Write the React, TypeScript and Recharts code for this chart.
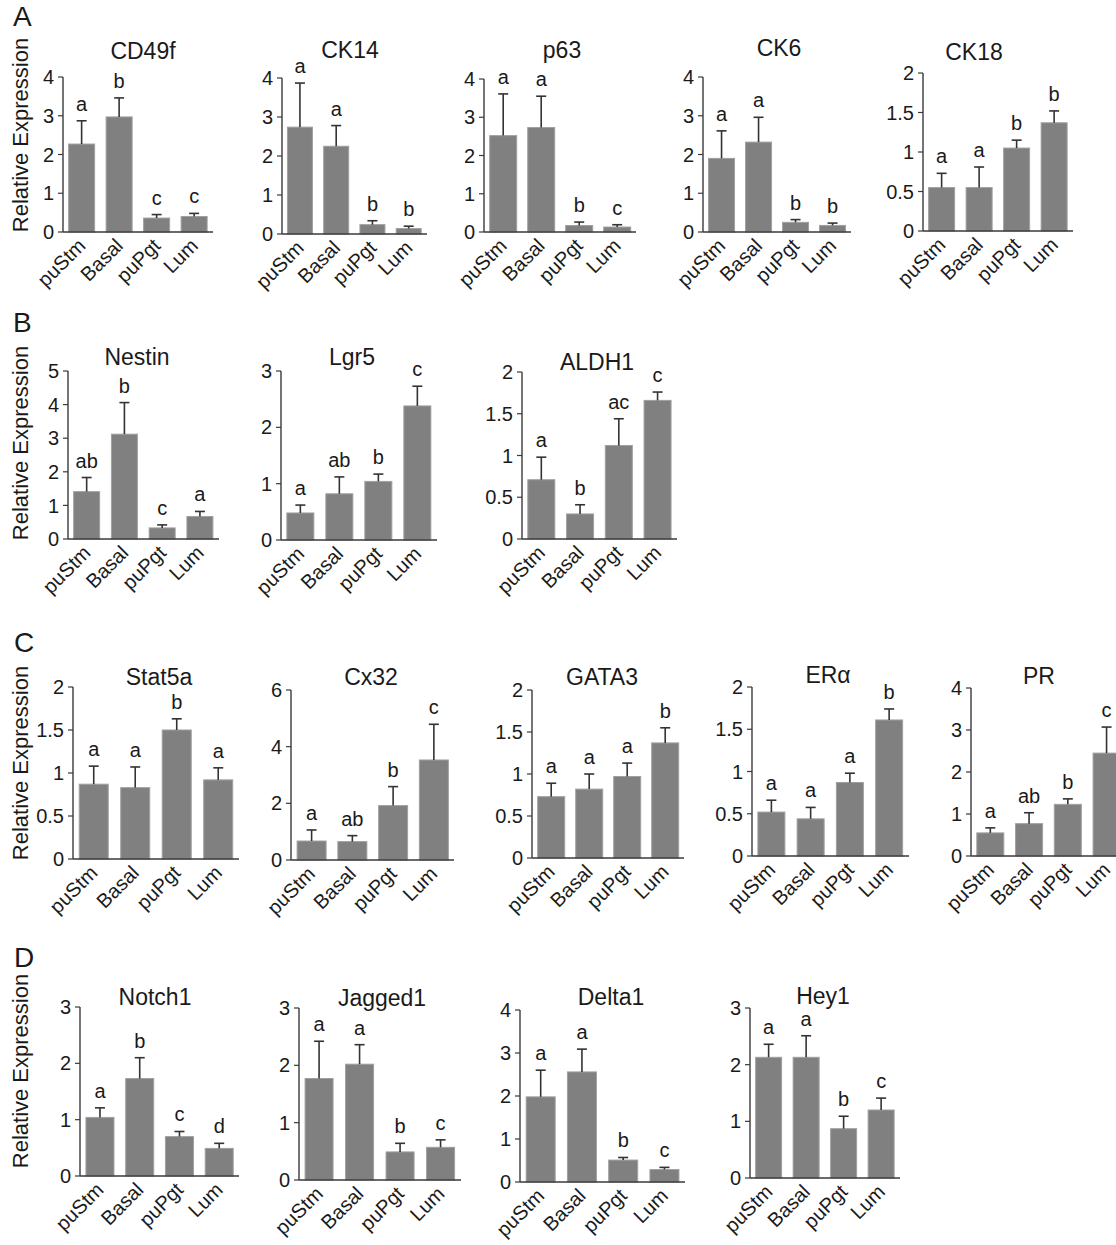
import React from 'react'
import { Bar, BarChart, XAxis, YAxis } from 'recharts'

const groups = ['puStm', 'Basal', 'puPgt', 'Lum']

// A
const cd49fMean = [2.27, 2.97, 0.36, 0.4]
const cd49fErr = [0.6, 0.49, 0.09, 0.08]
const cd49fSig = ['a', 'b', 'c', 'c']
const ck14Mean = [2.74, 2.25, 0.24, 0.14]
const ck14Err = [1.13, 0.53, 0.1, 0.06]
const ck14Sig = ['a', 'a', 'b', 'b']
const p63Mean = [2.52, 2.73, 0.17, 0.13]
const p63Err = [1.09, 0.82, 0.09, 0.06]
const p63Sig = ['a', 'a', 'b', 'c']
const ck6Mean = [1.9, 2.32, 0.25, 0.17]
const ck6Err = [0.71, 0.64, 0.07, 0.06]
const ck6Sig = ['a', 'a', 'b', 'b']
const ck18Mean = [0.55, 0.55, 1.05, 1.37]
const ck18Err = [0.18, 0.26, 0.1, 0.15]
const ck18Sig = ['a', 'a', 'b', 'b']

// B
const nestinMean = [1.41, 3.12, 0.33, 0.67]
const nestinErr = [0.42, 0.94, 0.09, 0.15]
const nestinSig = ['ab', 'b', 'c', 'a']
const lgr5Mean = [0.48, 0.82, 1.04, 2.38]
const lgr5Err = [0.14, 0.3, 0.13, 0.35]
const lgr5Sig = ['a', 'ab', 'b', 'c']
const aldh1Mean = [0.71, 0.3, 1.12, 1.66]
const aldh1Err = [0.27, 0.11, 0.32, 0.1]
const aldh1Sig = ['a', 'b', 'ac', 'c']

// C
const stat5aMean = [0.87, 0.83, 1.5, 0.92]
const stat5aErr = [0.21, 0.24, 0.13, 0.14]
const stat5aSig = ['a', 'a', 'b', 'a']
const cx32Mean = [0.67, 0.65, 1.92, 3.53]
const cx32Err = [0.39, 0.21, 0.67, 1.26]
const cx32Sig = ['a', 'ab', 'b', 'c']
const gata3Mean = [0.73, 0.82, 0.97, 1.37]
const gata3Err = [0.16, 0.18, 0.16, 0.18]
const gata3Sig = ['a', 'a', 'a', 'b']
const eraMean = [0.52, 0.44, 0.87, 1.61]
const eraErr = [0.14, 0.135, 0.11, 0.13]
const eraSig = ['a', 'a', 'a', 'b']
const prMean = [0.55, 0.77, 1.23, 2.45]
const prErr = [0.12, 0.26, 0.13, 0.62]
const prSig = ['a', 'ab', 'b', 'c']

// D
const notch1Mean = [1.04, 1.73, 0.7, 0.49]
const notch1Err = [0.17, 0.37, 0.09, 0.09]
const notch1Sig = ['a', 'b', 'c', 'd']
const jagged1Mean = [1.77, 2.02, 0.49, 0.57]
const jagged1Err = [0.65, 0.34, 0.15, 0.13]
const jagged1Sig = ['a', 'a', 'b', 'c']
const delta1Mean = [1.98, 2.56, 0.51, 0.29]
const delta1Err = [0.62, 0.53, 0.06, 0.05]
const delta1Sig = ['a', 'a', 'b', 'c']
const hey1Mean = [2.13, 2.13, 0.87, 1.2]
const hey1Err = [0.23, 0.38, 0.22, 0.21]
const hey1Sig = ['a', 'a', 'b', 'c']

const ticks4 = [0, 1, 2, 3, 4]
const ticks5 = [0, 1, 2, 3, 4, 5]
const ticks3 = [0, 1, 2, 3]
const ticks2 = [0, 0.5, 1, 1.5, 2]
const ticks6 = [0, 2, 4, 6]

const FONT = '"Liberation Sans", Arial, Helvetica, sans-serif'
const INK = '#1a1a1a'
const AXIS = '#3a3a3a'
const YW = 54
const MT = 50
const MR = 6
const XH = 90

function ErrBar(props: any) {
  const { x, y, width, height, payload } = props
  if (x == null || !payload) return null
  const ppu = payload.mean > 0 ? height / payload.mean : 0
  const top = y - payload.err * ppu
  const cx = x + width / 2
  return (
    <g>
      <rect x={x} y={y} width={width} height={height} fill='#808080' stroke='#a0a0a0' strokeWidth={1} />
      <line x1={cx} x2={cx} y1={y} y2={top} stroke='#333' strokeWidth={1.6} />
      <line x1={cx - 5} x2={cx + 5} y1={top} y2={top} stroke='#333' strokeWidth={1.6} />
      <text x={cx} y={top - 10} textAnchor='middle' fontSize={20} fill={INK} fontFamily={FONT}>
        {payload.sig}
      </text>
    </g>
  )
}

function GroupTick({ x, y, payload }: any) {
  const ax = x + 5
  const ay = y + 13
  return (
    <text x={ax} y={ay} transform={`rotate(-45 ${ax} ${ay})`} textAnchor='end' fontSize={20} fill={INK} fontFamily={FONT}>
      {payload.value}
    </text>
  )
}

type PanelProps = {
  title: string
  mean: number[]
  err: number[]
  sig: string[]
  max: number
  ticks: number[]
  axisX: number
  axisEnd: number
  yTop: number
  yBase: number
  titleX: number
  titleY: number
}

function Panel(p: PanelProps) {
  const data = groups.map((g, i) => ({ group: g, mean: p.mean[i], err: p.err[i], sig: p.sig[i] }))
  const plotW = p.axisEnd - p.axisX
  const plotH = p.yBase - p.yTop
  return (
    <>
      <div
        style={{
          position: 'absolute',
          left: p.titleX,
          top: p.titleY,
          transform: 'translate(-50%, -50%)',
          fontSize: 23,
          lineHeight: 1,
          whiteSpace: 'nowrap',
        }}
      >
        {p.title}
      </div>
      <div style={{ position: 'absolute', left: p.axisX - YW, top: p.yTop - MT }}>
        <BarChart
          width={YW + plotW + MR}
          height={MT + plotH + XH}
          data={data}
          margin={{ top: MT, right: MR, bottom: 0, left: 0 }}
          barCategoryGap='15%'
        >
          <XAxis
            dataKey='group'
            height={XH}
            interval={0}
            tickLine={false}
            tickSize={0}
            tick={<GroupTick />}
            axisLine={{ stroke: AXIS, strokeWidth: 1.4 }}
          />
          <YAxis
            type='number'
            width={YW}
            domain={[0, p.max]}
            ticks={p.ticks}
            interval={0}
            tickSize={5}
            tickMargin={4}
            tickLine={{ stroke: AXIS, strokeWidth: 1.2 }}
            axisLine={{ stroke: AXIS, strokeWidth: 1.4 }}
            tick={{ fontSize: 20, fill: INK, fontFamily: FONT }}
          />
          <Bar dataKey='mean' shape={<ErrBar />} isAnimationActive={false} />
        </BarChart>
      </div>
    </>
  )
}

const YLabel = ({ cy }: { cy: number }) => (
  <div
    style={{
      position: 'absolute',
      left: 21,
      top: cy,
      transform: 'translate(-50%, -50%) rotate(-90deg)',
      fontSize: 22,
      lineHeight: 1,
      whiteSpace: 'nowrap',
    }}
  >
    Relative Expression
  </div>
)

const Letter = ({ ch, x, y }: { ch: string; x: number; y: number }) => (
  <div style={{ position: 'absolute', left: x, top: y, fontSize: 28, lineHeight: 1 }}>{ch}</div>
)

export default function App() {
  return (
    <div
      style={{
        position: 'absolute',
        left: 0,
        top: 0,
        width: 1116,
        height: 1245,
        overflow: 'hidden',
        background: '#fff',
        fontFamily: FONT,
        color: INK,
      }}
    >
      <Letter ch='A' x={13} y={3} />
      <Letter ch='B' x={13} y={309} />
      <Letter ch='C' x={14} y={629} />
      <Letter ch='D' x={14} y={944} />

      <YLabel cy={135} />
      <YLabel cy={443} />
      <YLabel cy={763} />
      <YLabel cy={1071} />

      <Panel title='CD49f' mean={cd49fMean} err={cd49fErr} sig={cd49fSig} max={4} ticks={ticks4}
        axisX={63} axisEnd={213} yTop={77} yBase={232} titleX={143} titleY={51} />
      <Panel title='CK14' mean={ck14Mean} err={ck14Err} sig={ck14Sig} max={4} ticks={ticks4}
        axisX={282} axisEnd={427} yTop={78} yBase={234} titleX={350} titleY={50} />
      <Panel title='p63' mean={p63Mean} err={p63Err} sig={p63Sig} max={4} ticks={ticks4}
        axisX={484} axisEnd={636} yTop={79} yBase={232} titleX={562} titleY={50} />
      <Panel title='CK6' mean={ck6Mean} err={ck6Err} sig={ck6Sig} max={4} ticks={ticks4}
        axisX={703} axisEnd={851} yTop={77} yBase={232} titleX={779} titleY={48} />
      <Panel title='CK18' mean={ck18Mean} err={ck18Err} sig={ck18Sig} max={2} ticks={ticks2}
        axisX={923} axisEnd={1073} yTop={73} yBase={231} titleX={974} titleY={52} />

      <Panel title='Nestin' mean={nestinMean} err={nestinErr} sig={nestinSig} max={5} ticks={ticks5}
        axisX={68} axisEnd={219} yTop={371} yBase={539} titleX={137} titleY={357} />
      <Panel title='Lgr5' mean={lgr5Mean} err={lgr5Err} sig={lgr5Sig} max={3} ticks={ticks3}
        axisX={281} axisEnd={437} yTop={371} yBase={540} titleX={352} titleY={357} />
      <Panel title='ALDH1' mean={aldh1Mean} err={aldh1Err} sig={aldh1Sig} max={2} ticks={ticks2}
        axisX={522} axisEnd={677} yTop={372} yBase={539} titleX={597} titleY={362} />

      <Panel title='Stat5a' mean={stat5aMean} err={stat5aErr} sig={stat5aSig} max={2} ticks={ticks2}
        axisX={73} axisEnd={239} yTop={687} yBase={859} titleX={159} titleY={677} />
      <Panel title='Cx32' mean={cx32Mean} err={cx32Err} sig={cx32Sig} max={6} ticks={ticks6}
        axisX={291} axisEnd={454} yTop={690} yBase={860} titleX={371} titleY={677} />
      <Panel title='GATA3' mean={gata3Mean} err={gata3Err} sig={gata3Sig} max={2} ticks={ticks2}
        axisX={532} axisEnd={684} yTop={690} yBase={858} titleX={602} titleY={677} />
      <Panel title='ERα' mean={eraMean} err={eraErr} sig={eraSig} max={2} ticks={ticks2}
        axisX={752} axisEnd={909} yTop={687} yBase={856} titleX={828} titleY={675} />
      <Panel title='PR' mean={prMean} err={prErr} sig={prSig} max={4} ticks={ticks4}
        axisX={971} axisEnd={1126} yTop={688} yBase={856} titleX={1039} titleY={676} />

      <Panel title='Notch1' mean={notch1Mean} err={notch1Err} sig={notch1Sig} max={3} ticks={ticks3}
        axisX={80} axisEnd={239} yTop={1007} yBase={1176} titleX={155} titleY={997} />
      <Panel title='Jagged1' mean={jagged1Mean} err={jagged1Err} sig={jagged1Sig} max={3} ticks={ticks3}
        axisX={299} axisEnd={461} yTop={1008} yBase={1180} titleX={382} titleY={998} />
      <Panel title='Delta1' mean={delta1Mean} err={delta1Err} sig={delta1Sig} max={4} ticks={ticks4}
        axisX={520} axisEnd={685} yTop={1010} yBase={1182} titleX={611} titleY={997} />
      <Panel title='Hey1' mean={hey1Mean} err={hey1Err} sig={hey1Sig} max={3} ticks={ticks3}
        axisX={750} axisEnd={900} yTop={1008} yBase={1178} titleX={823} titleY={996} />
    </div>
  )
}
